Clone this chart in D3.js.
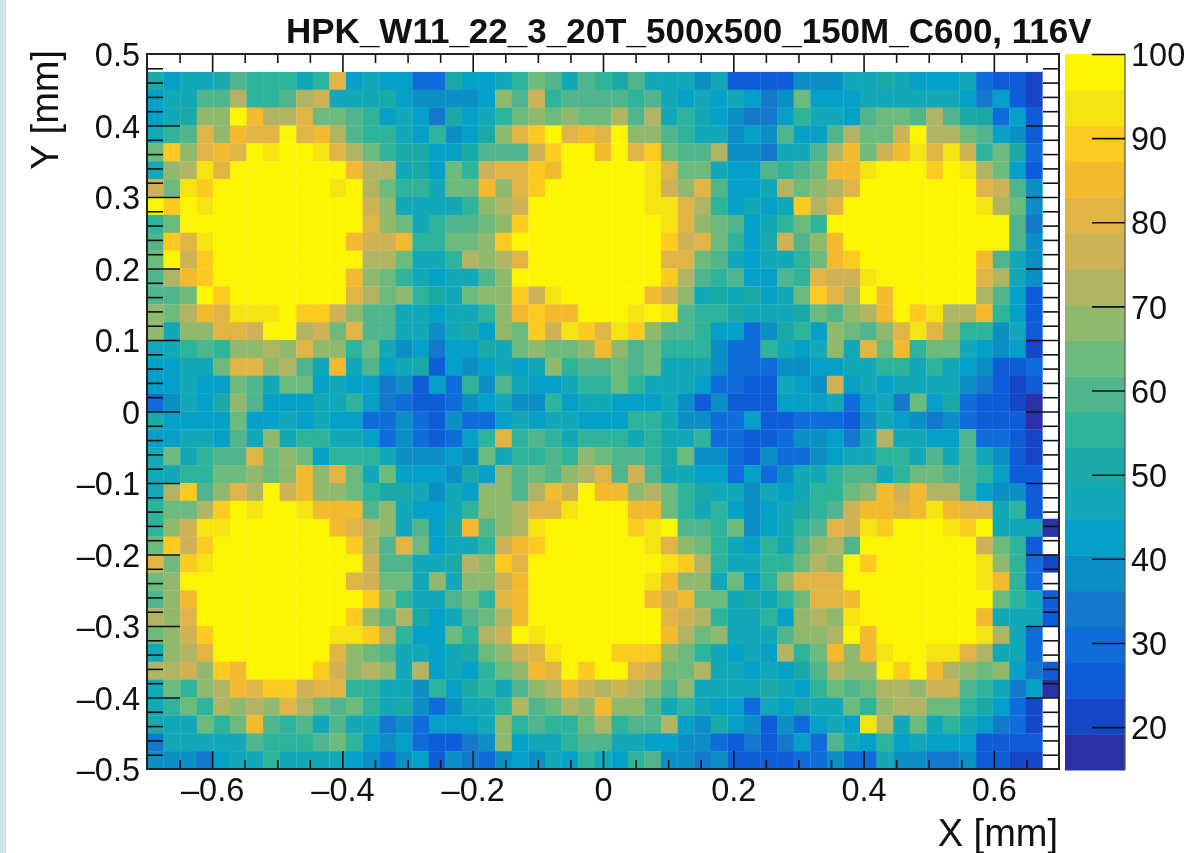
<!DOCTYPE html>
<html><head><meta charset="utf-8">
<script src="https://cdn.jsdelivr.net/npm/d3@7"></script>
<style>
html,body{margin:0;padding:0;background:#fff;overflow:hidden}
svg{display:block;filter:blur(0.7px)}
text{font-family:"Liberation Sans",Arial,sans-serif;fill:#111}
</style></head><body><div id="chart"></div>
<script>
const titleText = "HPK_W11_22_3_20T_500x500_150M_C600, 116V";
const xLabel = "X [mm]", yLabel = "Y [mm]";
const xMajorTicks = [-0.6,-0.4,-0.2,0,0.2,0.4,0.6];
const yMajorTicks = [-0.5,-0.4,-0.3,-0.2,-0.1,0,0.1,0.2,0.3,0.4,0.5];
const zTicks = [20,30,40,50,60,70,80,90,100];
const palette = ["#2a30a6","#1546c8","#0f5cd9","#0f6cdb","#1478cc","#0b8fc4","#05a0c8","#12a8b8","#1ba9a8","#2eb49a","#50b48c","#6dbb7c","#90b96e","#b1b563","#ceb255","#e0b545","#f3b92f","#fdcb1f","#f6e312","#fcf500"];
const xBinCount = 55, yBinCount = 40;
// Efficiency per bin, top row (y 0.45..0.475) first; column 0 is x = -0.7
const zRows = [
[51,43,47,47,51,60,55,55,55,47,55,81,43,47,43,43,30,30,51,43, 43,47,55,64,60,47,60,55,51,60,47,47,47,38,47,26,26,26,26, 38,38,38,47,47,51,47,43,43,43,47,30,26,26,21,0],
[43,47,47,60,60,72,55,55,60,72,77,47,47,47,51,43,38,38,38,38, 43,68,60,77,55,60,60,60,60,55,60,47,43,47,43,47,43,34,38, 64,43,43,43,47,47,47,47,47,47,43,34,43,26,21,0],
[43,47,51,68,68,98,85,72,72,81,64,64,60,55,43,47,43,34,51,43, 47,55,64,68,64,68,64,64,72,60,72,47,55,47,43,38,34,34,43, 55,47,47,43,60,64,64,60,72,60,51,51,30,43,26,0],
[47,55,60,81,68,85,81,81,98,81,85,72,60,55,55,47,43,55,38,43, 51,68,81,89,98,81,85,81,98,68,68,60,55,47,47,38,43,38,60, 43,43,60,72,64,64,77,98,72,72,64,60,43,38,26,0],
[64,89,68,81,85,81,98,94,98,98,94,81,72,64,55,51,51,43,43,51, 60,60,60,77,89,98,98,85,98,81,89,64,60,60,72,38,38,34,47, 47,60,72,85,64,77,85,94,81,94,77,55,64,51,30,0],
[47,68,72,94,81,98,98,98,98,98,98,98,85,72,72,47,51,43,64,55, 77,81,81,89,85,98,98,98,98,98,94,81,64,64,47,43,43,60,55, 60,64,85,85,94,98,98,98,89,98,94,72,64,43,26,0],
[77,64,94,89,98,98,98,98,98,98,98,94,98,72,64,55,55,47,64,64, 85,68,81,89,98,98,98,98,98,98,94,77,68,81,60,43,43,47,72, 64,68,72,81,98,98,98,98,98,98,98,81,77,60,38,0],
[98,89,98,94,98,98,98,98,98,98,98,98,98,77,68,47,47,47,47,55, 68,72,77,98,98,98,98,98,98,98,94,94,81,72,55,43,47,43,47, 89,72,81,98,98,98,98,98,98,98,98,94,72,64,38,0],
[55,64,98,98,98,98,98,98,98,98,98,98,98,81,68,64,47,55,60,60, 64,68,89,98,98,98,98,98,98,98,98,94,81,68,64,60,43,47,55, 64,55,98,98,98,98,98,98,98,98,98,98,98,60,34,0],
[60,89,81,94,98,98,98,98,98,98,98,98,85,77,77,85,55,55,64,64, 68,89,98,98,98,98,98,98,98,98,98,89,77,81,64,55,43,51,77, 60,68,85,98,98,98,98,98,98,98,98,98,98,60,38,0],
[64,98,77,89,98,98,98,98,98,98,98,98,98,72,72,64,47,47,55,72, 68,72,81,98,98,98,98,98,98,98,98,81,81,64,60,47,43,47,47, 55,64,85,89,98,98,98,98,98,98,98,85,60,47,38,0],
[60,72,85,89,98,98,98,98,98,98,98,98,85,68,64,55,47,43,47,47, 60,68,98,98,98,98,98,98,98,98,98,89,72,60,55,60,43,43,60, 55,81,77,77,94,98,98,98,98,98,98,81,72,47,38,0],
[60,60,64,98,89,98,98,98,98,98,98,98,81,72,64,68,55,51,47,64, 68,68,89,77,94,98,98,98,98,98,85,77,68,47,51,47,51,43,47, 64,89,81,72,98,85,98,98,98,98,98,72,60,43,26,0],
[68,64,72,85,81,94,94,94,98,89,89,77,68,60,60,47,47,43,47,47, 55,68,85,89,85,85,98,98,98,94,98,94,60,55,55,51,47,47,47, 51,64,60,68,72,85,98,89,94,72,72,85,55,43,26,0],
[68,47,68,68,81,81,77,98,98,72,77,64,81,60,60,47,47,38,47,51, 43,68,64,89,77,94,89,81,94,89,68,60,60,55,43,43,30,38,51, 55,43,68,64,60,68,81,94,81,68,55,55,38,47,26,0],
[47,47,55,60,55,68,68,72,68,81,68,68,55,64,47,38,43,34,43,43, 51,47,64,68,64,64,68,85,68,60,64,55,55,55,38,30,30,55,47, 43,47,68,47,81,64,85,55,64,64,47,43,38,43,21,0],
[43,43,47,47,64,81,81,68,72,60,47,85,47,60,43,47,51,26,43,38, 43,47,43,47,68,55,60,60,64,60,64,47,47,47,38,30,30,30,38, 38,43,43,47,47,55,55,47,55,47,43,38,26,26,30,0],
[43,43,47,43,43,64,60,47,64,64,43,47,43,43,34,38,26,43,30,55, 38,60,47,43,43,47,55,55,64,55,47,47,47,43,30,30,26,26,47, 43,38,77,43,47,43,47,47,47,47,38,34,26,21,26,0],
[30,38,47,43,51,68,60,43,43,43,47,47,55,43,34,30,26,26,30,38, 43,47,38,38,55,43,47,47,43,43,43,47,38,26,38,26,26,26,43, 43,43,47,30,43,47,34,64,43,51,30,26,26,21,17,0],
[51,43,43,43,43,64,43,43,47,43,47,43,43,30,30,38,30,26,38,30, 30,43,47,43,47,47,43,43,43,55,55,47,38,38,30,30,43,26,26, 30,30,30,26,38,47,43,38,34,38,30,26,26,26,17,0],
[43,43,47,47,43,60,47,68,47,55,55,47,47,43,30,38,30,26,30,43, 55,81,55,60,55,47,55,55,55,47,55,47,47,55,30,30,26,26,30, 38,38,43,34,47,72,47,47,43,43,60,30,30,26,21,0],
[47,64,47,55,60,60,81,64,68,64,43,55,55,55,47,38,38,38,43,38, 64,47,55,55,60,55,68,64,60,60,55,51,64,38,38,30,26,38,30, 30,38,43,47,47,55,55,47,60,47,60,47,38,26,21,0],
[47,47,55,55,64,64,68,64,68,85,68,81,64,47,64,43,43,43,38,51, 43,68,60,64,60,68,72,81,60,77,60,47,47,43,43,30,43,30,38, 47,47,55,60,60,47,55,64,64,60,60,55,43,26,26,0],
[47,72,89,60,68,81,72,98,77,85,68,68,64,55,51,51,47,38,47,43, 68,68,60,72,85,77,98,85,85,68,72,64,55,51,47,47,38,47,43, 47,55,55,64,68,85,77,85,72,72,60,43,38,38,26,0],
[55,64,64,72,89,98,94,98,98,94,85,85,85,60,68,47,43,43,47,55, 68,68,72,81,81,94,98,98,98,85,85,64,55,47,55,43,38,43,47, 51,55,60,77,85,85,81,85,94,85,81,81,47,55,26,0],
[55,68,77,94,94,98,98,98,98,98,98,85,81,72,68,47,60,43,51,85, 60,68,72,94,98,98,98,98,98,89,94,98,60,60,55,64,38,43,47, 55,60,81,77,94,89,98,98,98,94,89,98,47,47,47,17],
[64,89,77,89,98,98,98,98,98,98,98,98,89,72,60,81,64,43,47,47, 55,77,85,89,98,98,98,98,98,98,94,81,68,64,55,47,43,55,47, 60,68,72,60,98,98,98,98,98,98,98,77,64,55,26,0],
[81,64,89,94,98,98,98,98,98,98,98,98,98,77,60,60,47,47,51,72, 68,89,81,98,98,98,98,98,98,98,98,94,89,72,55,47,47,55,55, 64,72,68,98,89,98,98,98,98,98,98,94,68,55,30,21],
[64,68,98,98,98,98,98,98,98,98,98,98,81,77,64,64,47,68,47,68, 68,77,85,98,98,98,98,98,98,98,94,85,68,68,47,64,43,55,68, 81,81,81,98,98,98,98,98,98,98,98,94,85,55,30,0],
[60,68,85,98,98,98,98,98,98,98,98,98,98,89,68,55,47,47,60,64, 55,81,85,98,98,98,98,98,98,98,85,77,85,64,64,47,51,47,55, 64,81,81,85,98,98,98,98,98,98,98,98,64,55,47,26],
[72,68,81,98,98,98,98,98,98,98,98,98,89,68,60,72,51,43,47,60, 64,72,85,98,98,98,98,98,98,98,98,81,77,72,55,47,47,55,43, 68,72,68,94,98,98,98,98,98,98,98,85,47,47,47,26],
[64,68,77,89,98,98,98,98,98,98,98,94,94,89,72,55,43,43,64,55, 72,77,98,94,98,98,98,98,98,98,98,85,72,64,68,47,47,47,60, 68,68,72,98,85,98,98,98,98,98,98,94,72,47,30,0],
[47,68,72,81,98,98,98,98,98,98,98,81,68,64,60,47,47,43,47,51, 64,68,77,81,94,98,98,98,89,89,89,68,64,55,47,43,47,43,72, 55,64,85,68,85,94,98,98,94,94,81,72,47,47,30,0],
[72,72,77,68,89,85,98,98,98,98,89,77,68,72,68,47,72,43,47,43, 55,64,68,85,81,98,89,98,98,81,77,64,64,72,47,47,43,47,43, 51,60,72,68,68,98,89,98,85,72,68,64,68,43,34,26],
[47,64,55,68,72,85,81,89,89,77,81,81,55,55,47,47,38,55,43,51, 55,47,60,68,72,85,77,72,77,72,68,60,68,47,47,47,47,51,47, 43,55,64,60,64,72,72,68,77,77,60,55,47,34,43,17],
[47,55,64,55,72,68,72,68,81,72,64,60,64,55,47,51,38,30,38,47, 47,55,72,60,64,72,68,85,68,68,60,47,55,47,43,43,30,47,43, 51,47,47,64,55,68,72,72,64,64,55,51,43,30,21,0],
[51,47,47,64,55,64,85,60,55,60,47,60,47,47,34,38,30,43,43,43, 47,68,55,60,55,55,64,72,55,60,60,72,43,38,51,43,38,26,38, 30,43,47,43,94,72,47,64,47,55,47,43,34,30,21,0],
[34,47,47,47,47,47,60,55,55,55,60,64,55,43,38,43,30,26,26,34, 38,68,43,47,47,55,60,60,47,47,43,43,38,38,30,26,34,26,34, 43,30,60,47,43,55,43,47,43,43,43,26,26,26,26,0],
[38,38,38,34,43,47,47,55,47,47,47,47,43,38,30,38,43,26,38,34, 30,38,43,38,47,43,55,47,43,55,60,38,38,34,38,26,26,26,26, 30,30,38,30,30,47,38,38,34,34,38,26,26,21,21,0]
];

const W = 1184, H = 853;
const svg = d3.select("#chart").append("svg").attr("width",W).attr("height",H);

svg.append("rect").attr("x",-4).attr("y",-4).attr("width",10).attr("height",H+8).attr("fill","#cde3ec");

const x = d3.scaleLinear().domain([-0.7,0.7]).range([147,1059]);
const y = d3.scaleLinear().domain([-0.5,0.5]).range([769,54]);
const zMin = 14.9, zMax = 100;
const zPos = d3.scaleLinear().domain([zMin,zMax]).range([770,54]);
const color = d3.scaleQuantize().domain([zMin,zMax]).range(palette);

const dx = 1.4/xBinCount, dy = 1.0/yBinCount;
const cells = [];
zRows.forEach((row,r)=>row.forEach((v,c)=>{ if(v>0) cells.push({c,r,v}); }));
svg.append("g").selectAll("rect").data(cells).join("rect")
  .attr("x",d=>x(-0.7+d.c*dx))
  .attr("y",d=>y(0.475-d.r*dy))
  .attr("width",x(dx)-x(0)+0.25)
  .attr("height",y(0)-y(dy)+0.25)
  .attr("fill",d=>color(d.v));

const fmt = v => { const a=Math.abs(v); const s=a===0?"0":String(+a.toFixed(1)); return v<0?"\u2013"+s:s; };
const fs = 32.5;
const tickStroke = "#111";
function styleAxis(g){ g.select(".domain").remove(); g.selectAll("line").attr("stroke",tickStroke).attr("stroke-width",1.6); }

const xMinor = d3.range(-0.7,0.7001,0.05).map(v=>+v.toFixed(3)).filter(v=>!xMajorTicks.includes(v)&&v>-0.7&&v<0.7);
const yMinor = d3.range(-0.5,0.5001,0.02).map(v=>+v.toFixed(3)).filter(v=>!yMajorTicks.includes(v));

function addX(ypos,ticks,len,side){
  const ax=(side==="bottom"?d3.axisTop(x):d3.axisBottom(x)).tickValues(ticks).tickSize(len).tickFormat("");
  svg.append("g").attr("transform",`translate(0,${ypos})`).call(ax).call(styleAxis);
}
function addY(xpos,ticks,len,side){
  const ax=(side==="left"?d3.axisRight(y):d3.axisLeft(y)).tickValues(ticks).tickSize(len).tickFormat("");
  svg.append("g").attr("transform",`translate(${xpos},0)`).call(ax).call(styleAxis);
}
addX(769,xMinor,9,"bottom"); addX(769,xMajorTicks,18,"bottom");
addX(54,xMinor,9,"top"); addX(54,xMajorTicks,18,"top");
addY(147,yMinor,16,"left"); addY(147,yMajorTicks.slice(1,-1),33,"left");
addY(1059,yMinor,16,"right"); addY(1059,yMajorTicks.slice(1,-1),33,"right");

svg.append("rect").attr("x",147).attr("y",54).attr("width",912).attr("height",715)
  .attr("fill","none").attr("stroke","#222").attr("stroke-width",2);

// tick labels
const xLabels = d3.axisBottom(x).tickValues(xMajorTicks).tickSize(0).tickPadding(0).tickFormat(fmt);
svg.append("g").attr("transform","translate(0,778)").call(xLabels)
  .call(g=>g.select(".domain").remove())
  .selectAll("text").attr("font-size",fs).attr("dy","0.71em").attr("y",0);
const yLabels = d3.axisLeft(y).tickValues(yMajorTicks).tickSize(0).tickPadding(0).tickFormat(fmt);
svg.append("g").attr("transform","translate(140,0)").call(yLabels)
  .call(g=>g.select(".domain").remove())
  .selectAll("text").attr("font-size",fs).attr("dy","0.36em");

svg.append("text").attr("x",286).attr("y",43).attr("font-size",35).attr("font-weight","bold").text(titleText);
svg.append("text").attr("x",1058).attr("y",846).attr("text-anchor","end").attr("font-size",38).text(xLabel);
svg.append("text").attr("transform","translate(58,50) rotate(-90)").attr("text-anchor","end").attr("font-size",38).text(yLabel);

// colour bar
const bandW = (zMax-zMin)/palette.length;
svg.append("g").selectAll("rect").data(palette).join("rect")
  .attr("x",1065).attr("width",60)
  .attr("y",(d,i)=>zPos(zMin+(i+1)*bandW))
  .attr("height",bandW*(zPos(0)-zPos(1))+0.5)
  .attr("fill",d=>d);
svg.append("line").attr("x1",1125).attr("x2",1125).attr("y1",54).attr("y2",770).attr("stroke","#555").attr("stroke-width",1.2);
const zAxis = d3.axisRight(zPos).tickValues(zTicks).tickSize(0).tickPadding(6).tickFormat(d3.format("d"));
svg.append("g").attr("transform","translate(1125,0)").call(zAxis)
  .call(g=>g.select(".domain").remove())
  .selectAll("text").attr("font-size",fs).attr("dy","0.36em");
const zTickAxis = d3.axisLeft(zPos).tickValues(zTicks).tickSize(33).tickFormat("");
svg.append("g").attr("transform","translate(1125,0)").call(zTickAxis).call(styleAxis);
</script></body></html>
